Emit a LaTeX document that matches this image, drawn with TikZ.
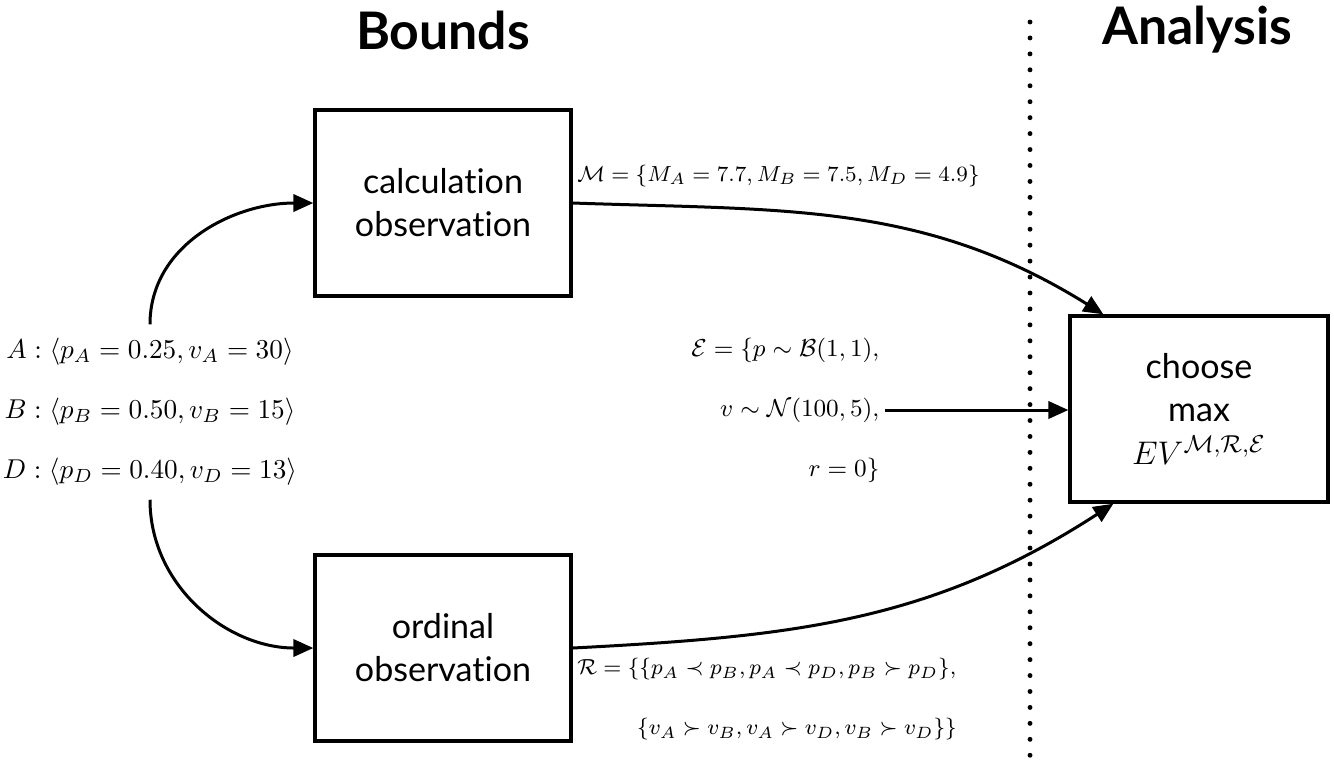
\documentclass[tikz,border=0pt]{standalone}
\usepackage{fontspec}
\setsansfont{Lato}[Ligatures=NoCommon]
\usetikzlibrary{arrows.meta,positioning,calc}

\tikzset{
  obsbox/.style={
    draw,
    line width=1.2pt,
    minimum width=94pt,
    minimum height=68.3pt,
    align=center,
    font=\sffamily\fontsize{12.5}{15.8}\selectfont
  },
  flow/.style={line width=1.1pt, -{Triangle[length=7.3pt,width=6.3pt]}},
  mathlabel/.style={inner sep=0pt, font=\fontsize{8.5}{10}\selectfont},
  heading/.style={font=\sffamily\bfseries\fontsize{19}{22}\selectfont},
  divider/.style={line width=1.8pt, line cap=round, dash pattern=on 0pt off 5.85pt}
}

\begin{document}
\begin{tikzpicture}[x=0.367pt,y=0.367pt]
  \useasboundingbox (0,0) rectangle (1334,-761);

  % headings
  \node[heading] (bounds) at (443,-30) {Bounds};
  \node[heading] (analysis) at (1197,-30) {Analysis};

  % boxes
  \node[obsbox] (calc) at (443,-203) {calculation\\observation};
  \node[obsbox] (ordinal) at (443,-648) {ordinal\\observation};
  \node[obsbox, minimum width=94.7pt] (choose) at (1199,-409)
    {choose\\max\\$EV^{\mathcal{M},\mathcal{R},\mathcal{E}}$};

  % options
  \node[align=center, inner ysep=5pt, font=\fontsize{9.8}{11.5}\selectfont] (vals) at (150,-412) {%
    $A:\langle p_A=0.25, v_A=30\rangle$\\[10.5pt]
    $B:\langle p_B=0.50, v_B=15\rangle$\\[10.5pt]
    $D:\langle p_D=0.40, v_D=13\rangle$};

  % sets
  \node[mathlabel, anchor=base west] (mset) at ($(calc.east)+(4,22)$)
    {$\mathcal{M}=\{M_A=7.7, M_B=7.5, M_D=4.9\}$};
  \node[mathlabel, align=left, anchor=north west] (rset) at ($(ordinal.east)+(4,-10)$) {%
    $\mathcal{R}=\{\{p_A\prec p_B, p_A\prec p_D, p_B\succ p_D\},$\\[12pt]
    \hspace{22pt}$\{v_A\succ v_B, v_A\succ v_D, v_B\succ v_D\}\}$};
  \node[mathlabel, align=right, anchor=east, font=\fontsize{9.3}{11}\selectfont] (eset) at (880,-410) {%
    $\mathcal{E}=\{p\sim\mathcal{B}(1,1),$\\[11pt]
    $v\sim\mathcal{N}(100,5),$\\[11pt]
    $r=0\}$};

  % divider
  \coordinate (divtop) at (1030,-22);
  \coordinate (divbot) at (1030,-757);
  \draw[divider] (divtop) -- (divbot);

  % arrows
  \draw[flow] (vals.north) to[out=90,in=180] (calc.west);
  \draw[flow] (vals.south) to[out=-90,in=180] (ordinal.west);
  \draw[flow] (calc.east) to[out=-2,in=148] ($(choose.north west)+(35,0)$);
  \draw[flow] (ordinal.east) to[out=3,in=-147] ($(choose.south west)+(45,0)$);
  \draw[flow] ([xshift=2pt]eset.east) -- (eset.east -| choose.west);
\end{tikzpicture}
\end{document}
